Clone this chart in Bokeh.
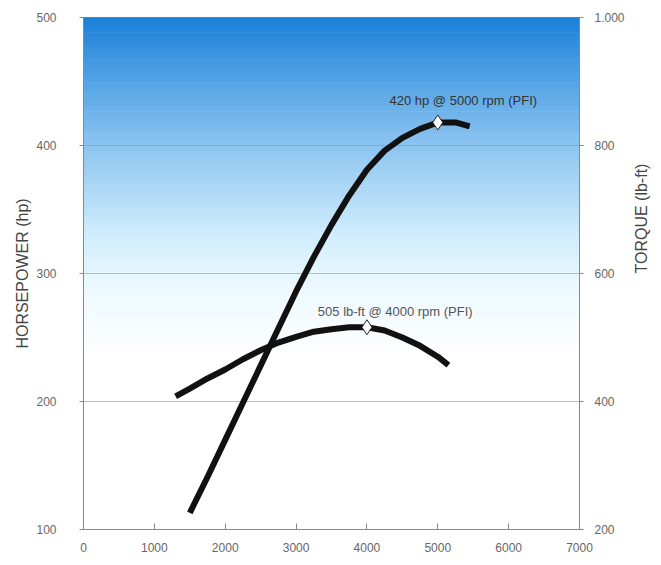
import math
import numpy as np
from bokeh.plotting import figure
from bokeh.models import Range1d, LinearAxis, Label, FixedTicker
from bokeh.embed import file_html
from bokeh.resources import INLINE

# Data
hp_rpm = [1500, 1750, 2000, 2250, 2500, 2750, 3000, 3250, 3500, 3750, 4000, 4250, 4500, 4750, 5000, 5250, 5450]
hp_val = [113, 141, 170, 199, 228, 257, 286, 313, 338, 361, 381, 396, 406, 413, 418, 418, 415]
tq_rpm = [1300, 1500, 1750, 2000, 2250, 2500, 2750, 3000, 3250, 3500, 3750, 4000, 4250, 4500, 4750, 5000, 5150]
tq_val = [408, 420, 436, 450, 466, 480, 492, 501, 509, 513, 516, 516, 511, 500, 487, 470, 457]
hp_peak_rpm = [5000]
hp_peak = [418]
tq_peak_rpm = [4000]
tq_peak = [516]
x_ticks = [0, 1000, 2000, 3000, 4000, 5000, 6000, 7000]
hp_ticks = [100, 200, 300, 400, 500]
tq_ticks = [200, 400, 600, 800, 1000]

FONT = "Liberation Sans"
AX = "#7f8a94"

p = figure(width=661, height=558, output_backend="svg", toolbar_location=None,
           x_range=Range1d(0, 7000), y_range=Range1d(100, 500),
           min_border_left=83, min_border_right=78, min_border_top=17, min_border_bottom=29)
p.extra_y_ranges = {"torque": Range1d(200, 1000)}
p.background_fill_color = "white"
p.border_fill_color = "white"
p.outline_line_color = AX
p.outline_line_width = 1

# background gradient (decoration)
stops = [(235, (255, 255, 255)), (290, (236, 249, 255)), (330, (208, 237, 252)),
         (400, (140, 196, 240)), (450, (84, 163, 230)), (500, (26, 128, 216))]
edges = np.linspace(235, 500, 134)
cols = []
for a, b in zip(edges[:-1], edges[1:]):
    m = (a + b) / 2
    for (y0, c0), (y1, c1) in zip(stops[:-1], stops[1:]):
        if y0 <= m <= y1:
            t = (m - y0) / (y1 - y0)
            c = tuple(int(round(c0[i] + t * (c1[i] - c0[i]))) for i in range(3))
            cols.append("#%02x%02x%02x" % c)
            break
bg = p.quad(left=0, right=7000, bottom=edges[:-1], top=edges[1:] + 0.5, fill_color=cols, line_color=None)
bg.level = "image"

# grid
p.xgrid.visible = False
p.ygrid.ticker = FixedTicker(ticks=[200, 300, 400])
p.ygrid.grid_line_color = "#7f9ab3"
p.ygrid.grid_line_width = 1
p.ygrid.grid_line_alpha = 0.6
p.ygrid.level = "underlay"

# curves
p.line(hp_rpm, hp_val, line_color="#111111", line_width=6, line_join="round")
p.line(tq_rpm, tq_val, line_color="#111111", line_width=6, line_join="round", y_range_name="torque")
p.scatter(hp_peak_rpm, hp_peak, marker="diamond", size=15, fill_color="white", line_color="#222222", line_width=1)
p.scatter(tq_peak_rpm, tq_peak, marker="diamond", size=15, fill_color="white", line_color="#222222", line_width=1,
          y_range_name="torque")

p.add_layout(Label(x=5360, y=435, text="420 hp @ 5000 rpm (PFI)", text_align="center", text_baseline="middle",
                   text_font=FONT, text_font_size="13px", text_color="#333333"))
p.add_layout(Label(x=4400, y=541, text="505 lb-ft @ 4000 rpm (PFI)", text_align="center", text_baseline="middle",
                   text_font=FONT, text_font_size="13px", text_color="#555555", y_range_name="torque"))

# axes
xa = p.xaxis[0]
xa.ticker = FixedTicker(ticks=x_ticks)
xa.major_tick_in = 6
xa.major_tick_out = 0
xa.minor_tick_line_color = None
xa.axis_line_color = AX
xa.major_tick_line_color = AX
xa.major_label_standoff = 13
xa.major_label_text_font = FONT
xa.major_label_text_font_size = "12px"
xa.major_label_text_color = "#666666"

ya = p.yaxis[0]
ya.ticker = FixedTicker(ticks=hp_ticks)
ya.major_tick_in = 0
ya.major_tick_out = 4
ya.minor_tick_line_color = None
ya.axis_line_color = AX
ya.major_tick_line_color = AX
ya.major_label_standoff = 23
ya.major_label_text_font = FONT
ya.major_label_text_font_size = "12px"
ya.major_label_text_color = "#666666"
ya.axis_label = "HORSEPOWER (hp)"
ya.axis_label_text_font = FONT
ya.axis_label_text_font_size = "16px"
ya.axis_label_text_font_style = "normal"
ya.axis_label_text_color = "#444444"
ya.axis_label_standoff = 2

ra = LinearAxis(y_range_name="torque", ticker=FixedTicker(ticks=tq_ticks))
ra.major_label_overrides = {1000: "1.000"}
ra.major_tick_in = 0
ra.major_tick_out = 4
ra.minor_tick_line_color = None
ra.axis_line_color = AX
ra.major_tick_line_color = AX
ra.major_label_standoff = 11
ra.major_label_text_font = FONT
ra.major_label_text_font_size = "12px"
ra.major_label_text_color = "#666666"
ra.axis_label = "TORQUE (lb-ft)"
ra.axis_label_text_font = FONT
ra.axis_label_text_font_size = "16px"
ra.axis_label_text_font_style = "normal"
ra.axis_label_text_color = "#444444"
ra.axis_label_standoff = 14
try:
    ra.axis_label_orientation = math.pi / 2
except Exception:
    pass
p.add_layout(ra, "right")

open("out.html", "w").write(file_html(p, INLINE))
